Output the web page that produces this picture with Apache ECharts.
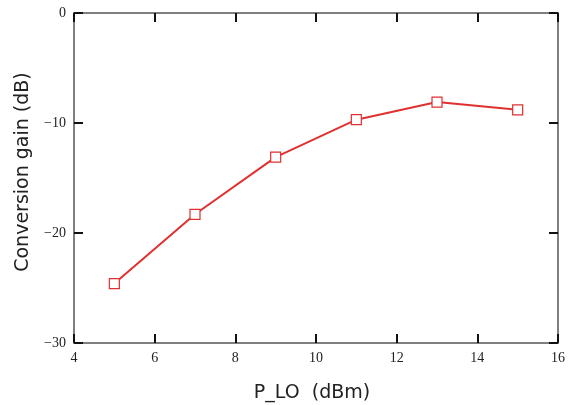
<!DOCTYPE html>
<html>
<head>
<meta charset="utf-8">
<script src="https://cdn.jsdelivr.net/npm/echarts@6/dist/echarts.min.js"></script>
<style>
  html, body { margin: 0; padding: 0; background: #fff; }
  #chart { width: 576px; height: 405px; }
</style>
</head>
<body>
<div id="chart"></div>
<script>
// LO drive power (dBm) and measured conversion gain (dB)
const pLO = [5, 7, 9, 11, 13, 15];
const gain = [-24.6, -18.3, -13.1, -9.7, -8.1, -8.8];
const xTicks = [4, 6, 8, 10, 12, 14, 16];
const yTicks = [0, -10, -20, -30];

const chart = echarts.init(document.getElementById('chart'), null, { renderer: 'canvas' });

const tickLabel = { fontFamily: 'Liberation Serif', fontSize: 14, color: '#222' };
const titleFont = { fontFamily: 'DejaVu Sans', fontSize: 19, color: '#222' };
const frameLine = { show: true, onZero: false, lineStyle: { color: '#555', width: 1.5 } };
const tick = { show: true, inside: true, length: 9, lineStyle: { color: '#111', width: 2 } };

chart.setOption({
  animation: false,
  grid: { left: 74, right: 18, top: 13, bottom: 62, containLabel: false, outerBoundsMode: 'none' },
  xAxis: [
    {
      type: 'value', min: xTicks[0], max: xTicks[xTicks.length - 1], interval: 2,
      position: 'bottom',
      name: 'P_LO  (dBm)', nameLocation: 'middle', nameGap: 41,
      nameTextStyle: Object.assign({ padding: [0, 8, 0, 0] }, titleFont),
      axisLine: frameLine, axisTick: tick,
      axisLabel: Object.assign({ margin: 8 }, tickLabel),
      splitLine: { show: false }
    },
    {
      type: 'value', min: xTicks[0], max: xTicks[xTicks.length - 1], interval: 2,
      position: 'top',
      axisLine: frameLine, axisTick: tick, axisLabel: { show: false },
      splitLine: { show: false }
    }
  ],
  yAxis: [
    {
      type: 'value', min: yTicks[yTicks.length - 1], max: yTicks[0], interval: 10,
      position: 'left',
      name: 'Conversion gain (dB)', nameLocation: 'middle', nameGap: 41,
      nameTextStyle: Object.assign({ padding: [0, 0, 0, 12] }, titleFont),
      axisLine: frameLine, axisTick: tick,
      axisLabel: Object.assign({ margin: 8, formatter: v => String(v).replace('-', '\u2212') }, tickLabel),
      splitLine: { show: false }
    },
    {
      type: 'value', min: yTicks[yTicks.length - 1], max: yTicks[0], interval: 10,
      position: 'right',
      axisLine: frameLine, axisTick: tick, axisLabel: { show: false },
      splitLine: { show: false }
    }
  ],
  series: [{
    type: 'line',
    data: pLO.map((x, i) => [x, gain[i]]),
    xAxisIndex: 0, yAxisIndex: 0,
    symbol: 'rect', symbolSize: 10,
    itemStyle: { color: '#fff', borderColor: '#e03030', borderWidth: 1.2 },
    lineStyle: { color: '#e03030', width: 2 },
    z: 3
  }]
});
</script>
</body>
</html>
